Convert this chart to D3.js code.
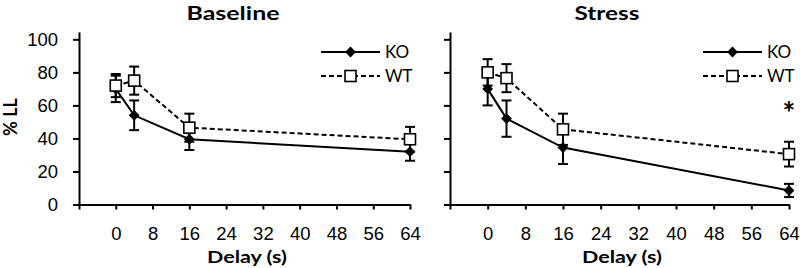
<!DOCTYPE html>
<html>
<head>
<meta charset="utf-8">
<script src="https://cdn.jsdelivr.net/npm/d3@7"></script>
<style>
  body { margin: 0; background: #fff; }
  svg { display: block; font-family: Lato, "Open Sans", sans-serif; }
  .axis path, .axis line { stroke: #000; stroke-width: 2; }
  .axis text { font-size: 18.5px; fill: #000; }
</style>
</head>
<body>
<div id="chart"></div>
<script>
// delays in seconds
const delays = [0, 4, 16, 64];

const baselineKO = [70, 54, 39.5, 32];
const baselineKOErr = [8, 9, 6.5, 5.5];
const baselineWT = [72, 75, 46.5, 39.5];
const baselineWTErr = [7, 8.5, 8.5, 7.5];

const stressKO = [70, 52, 34.5, 8.5];
const stressKOErr = [10, 11, 10, 4];
const stressWT = [80, 76.5, 45.5, 30.5];
const stressWTErr = [8, 8.5, 9.5, 7.5];

const xTicks = [-8, 0, 8, 16, 24, 32, 40, 48, 56, 64];
const yTicks = [0, 20, 40, 60, 80, 100];
const seriesNames = ['KO', 'WT'];

const w = 800, h = 268;

const svg = d3.select('#chart')
  .append('svg')
  .attr('width', w)
  .attr('height', h);

const yScale = d3.scaleLinear()
  .domain([0, 104.5])
  .range([204.5, 31.9]);

const panels = [
  {title: 'Baseline', ko: baselineKO, koErr: baselineKOErr, wt: baselineWT, wtErr: baselineWTErr,
   x0: 79, x1: 410, titleX: 233, titleW: 93, labelX: 247, legendX: 321, showY: true, star: false},
  {title: 'Stress', ko: stressKO, koErr: stressKOErr, wt: stressWT, wtErr: stressWTErr,
   x0: 450, x1: 789, titleX: 607, titleW: 65, labelX: 622, legendX: 703, showY: false, star: true}
];

const diamond = d3.symbol().type(d3.symbolDiamond2).size(75);

panels.forEach(p => {
  const g = svg.append('g');
  const xScale = d3.scaleLinear().domain([-8, 64]).range([p.x0, p.x1]);

  // axes
  const yAxis = d3.axisLeft(yScale)
    .tickValues(yTicks)
    .tickSize(6)
    .tickSizeOuter(0)
    .tickPadding(15)
    .tickFormat(p.showY ? d3.format('d') : '');
  g.append('g')
    .attr('class', 'axis')
    .attr('transform', `translate(${p.x0},0)`)
    .call(yAxis);

  const xAxis = d3.axisBottom(xScale)
    .tickValues(xTicks)
    .tickSize(5)
    .tickSizeOuter(0)
    .tickPadding(17)
    .tickFormat(d => d < 0 ? '' : d);
  g.append('g')
    .attr('class', 'axis')
    .attr('transform', `translate(0,${yScale(0)})`)
    .call(xAxis);

  // title + x label
  g.append('text')
    .attr('x', p.titleX).attr('y', 19.5)
    .attr('text-anchor', 'middle')
    .attr('textLength', p.titleW)
    .attr('lengthAdjust', 'spacingAndGlyphs')
    .style('font-size', '19.5px').style('font-weight', 'bold')
    .text(p.title);
  g.append('text')
    .attr('x', p.labelX).attr('y', 263)
    .attr('text-anchor', 'middle')
    .attr('textLength', 80)
    .attr('lengthAdjust', 'spacingAndGlyphs')
    .style('font-size', '17px').style('font-weight', 'bold')
    .text('Delay (s)');

  const koPts = delays.map((d, i) => ({x: d, y: p.ko[i], e: p.koErr[i]}));
  const wtPts = delays.map((d, i) => ({x: d, y: p.wt[i], e: p.wtErr[i]}));

  const line = d3.line().x(d => xScale(d.x)).y(d => yScale(d.y));

  const drawSeries = (pts, dashed, marker) => {
    g.append('path')
      .datum(pts)
      .attr('d', line)
      .attr('fill', 'none')
      .attr('stroke', '#000')
      .attr('stroke-width', 2)
      .attr('stroke-dasharray', dashed ? '5,3' : null);

    const eb = g.append('g').selectAll('g').data(pts).enter().append('g');
    eb.append('line')
      .attr('x1', d => xScale(d.x)).attr('x2', d => xScale(d.x))
      .attr('y1', d => yScale(d.y - d.e)).attr('y2', d => yScale(d.y + d.e))
      .attr('stroke', '#000').attr('stroke-width', 2);
    [-1, 1].forEach(s => {
      eb.append('line')
        .attr('x1', d => xScale(d.x) - 5).attr('x2', d => xScale(d.x) + 5)
        .attr('y1', d => yScale(d.y + s * d.e)).attr('y2', d => yScale(d.y + s * d.e))
        .attr('stroke', '#000').attr('stroke-width', 2);
    });

    if (marker === 'diamond') {
      g.append('g').selectAll('path').data(pts).enter().append('path')
        .attr('d', diamond)
        .attr('transform', d => `translate(${xScale(d.x)},${yScale(d.y)})`)
        .attr('fill', '#000');
    } else {
      g.append('g').selectAll('rect').data(pts).enter().append('rect')
        .attr('x', d => xScale(d.x) - 5.5).attr('y', d => yScale(d.y) - 5.5)
        .attr('width', 11).attr('height', 11)
        .attr('fill', '#fff').attr('stroke', '#000').attr('stroke-width', 1.6);
    }
  };

  drawSeries(koPts, false, 'diamond');
  drawSeries(wtPts, true, 'square');

  // legend
  const lg = g.append('g').attr('transform', `translate(${p.legendX},0)`);
  seriesNames.forEach((name, i) => {
    const ly = 52 + i * 24;
    lg.append('line')
      .attr('x1', 0).attr('x2', 59).attr('y1', ly).attr('y2', ly)
      .attr('stroke', '#000').attr('stroke-width', 2)
      .attr('stroke-dasharray', i === 1 ? '5,3' : null);
    if (i === 0) {
      lg.append('path').attr('d', diamond)
        .attr('transform', `translate(29.5,${ly})`).attr('fill', '#000');
    } else {
      lg.append('rect').attr('x', 24).attr('y', ly - 5.5)
        .attr('width', 11).attr('height', 11)
        .attr('fill', '#fff').attr('stroke', '#000').attr('stroke-width', 1.6);
    }
    lg.append('text')
      .attr('x', 64).attr('y', ly)
      .attr('dy', '0.35em')
      .style('font-size', '17px')
      .text(name);
  });

  if (p.star) {
    g.append('text')
      .attr('x', xScale(64)).attr('y', yScale(48.5))
      .attr('text-anchor', 'middle')
      .style('font-size', '30px').style('font-weight', 'bold')
      .text('*');
  }
});

// y axis label
svg.append('text')
  .attr('transform', 'translate(17,117) rotate(-90)')
  .attr('text-anchor', 'middle')
  .style('font-size', '18px').style('font-weight', 'bold')
  .text('% LL');
</script>
</body>
</html>
